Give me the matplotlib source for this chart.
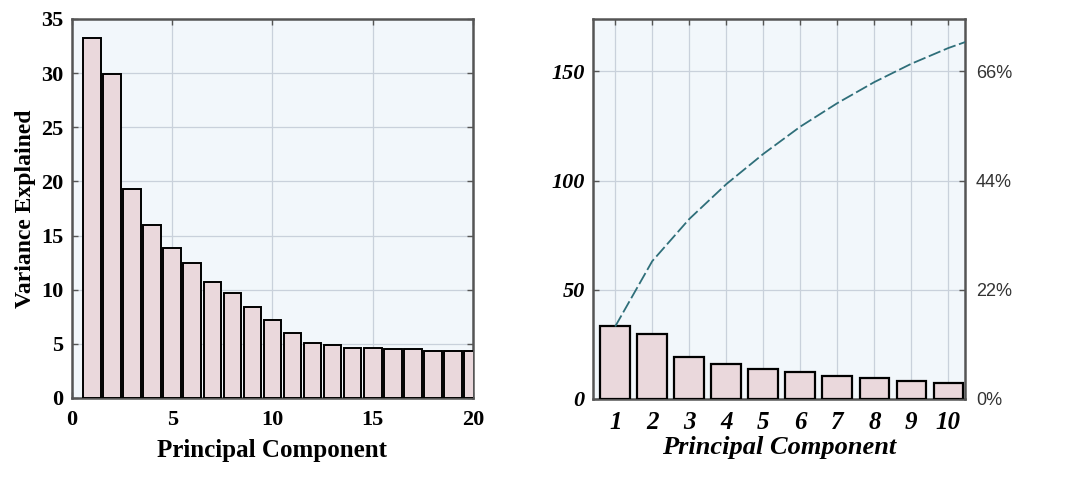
import numpy as np
import matplotlib
matplotlib.use("Agg")
import matplotlib.pyplot as plt

# variance explained per principal component
components = list(range(1, 21))
variance = [33.2, 29.9, 19.3, 15.95, 13.85, 12.5, 10.75, 9.65, 8.4, 7.2,
            6.0, 5.1, 4.9, 4.65, 4.65, 4.5, 4.5, 4.35, 4.35, 4.35]

left_yticks = [0, 5, 10, 15, 20, 25, 30, 35]
left_xticks = [0, 5, 10, 15, 20]
right_yticks = [0, 50, 100, 150]
pct_ticks = [0, 22, 44, 66]
n_right = 10

BG = "#f2f7fb"
BAR = "#ead8dc"
GRID = "#c9d1db"
SPINE = "#555555"
SERIF = "Liberation Serif"

fig = plt.figure(figsize=(10.65, 4.78), dpi=100)

# ---- left panel: scree plot of 20 components ----
ax1 = fig.add_axes([0.0676, 0.1674, 0.3765, 0.7929])
ax1.set_facecolor(BG)
ax1.bar(components, variance, width=0.88, color=BAR, edgecolor="black",
        linewidth=1.4, zorder=3)
ax1.set_xlim(0, 20)
ax1.set_ylim(0, 35)
ax1.set_xticks(left_xticks)
ax1.set_yticks(left_yticks)
ax1.grid(True, color=GRID, linewidth=0.9, zorder=0)
ax1.tick_params(direction="in", top=True, right=True, length=4, width=1,
                color=SPINE, pad=6)
ax1.tick_params(axis="x", pad=9)
for lab in ax1.get_xticklabels() + ax1.get_yticklabels():
    lab.set_fontfamily(SERIF)
    lab.set_fontweight("bold")
    lab.set_fontsize(16)
ax1.set_xlabel("Principal Component", fontfamily=SERIF, fontweight="bold",
               fontsize=18, labelpad=6)
ax1.set_ylabel("Variance Explained", fontfamily=SERIF, fontweight="bold",
               fontsize=17, labelpad=4)
for sp in ax1.spines.values():
    sp.set_color(SPINE)
    sp.set_linewidth(1.8)

# ---- right panel: first 10 components with cumulative curve ----
ax2 = fig.add_axes([0.5568, 0.1653, 0.3493, 0.795])
ax2.set_facecolor(BG)
ax2.bar(components[:n_right], variance[:n_right], width=0.8, color=BAR,
        edgecolor="black", linewidth=1.6, zorder=3)
cum = np.cumsum(variance)
ax2.plot(components, cum, color="#2f6f7a", linestyle=(0, (7, 2)),
         linewidth=1.3, zorder=4)
ax2.set_xlim(0.4, 10.45)
ax2.set_ylim(0, 174)
ax2.set_xticks(components[:n_right])
ax2.set_yticks(right_yticks)
ax2.grid(True, color=GRID, linewidth=0.9, zorder=0)
ax2.tick_params(direction="in", top=True, length=4, width=1, color=SPINE, pad=6)
ax2.tick_params(axis="x", pad=9)
for lab in ax2.get_xticklabels():
    lab.set_fontfamily(SERIF)
    lab.set_fontweight("bold")
    lab.set_fontstyle("italic")
    lab.set_fontsize(18)
for lab in ax2.get_yticklabels():
    lab.set_fontfamily(SERIF)
    lab.set_fontweight("bold")
    lab.set_fontstyle("italic")
    lab.set_fontsize(16)
ax2.set_xlabel("Principal Component", fontfamily=SERIF, fontweight="bold",
               fontstyle="italic", fontsize=19, labelpad=1)
for sp in ax2.spines.values():
    sp.set_color(SPINE)
    sp.set_linewidth(1.8)

ax3 = ax2.twinx()
ax3.set_ylim(0, 174 * 0.44)
ax3.set_yticks(pct_ticks)
ax3.set_yticklabels([f"{p}%" for p in pct_ticks], fontfamily="Liberation Sans",
                    fontsize=13, color="#333333")
ax3.tick_params(direction="in", length=4, width=1, color=SPINE, pad=8)
for sp in ax3.spines.values():
    sp.set_visible(False)

fig.savefig("out.png", dpi=100, facecolor="white")
